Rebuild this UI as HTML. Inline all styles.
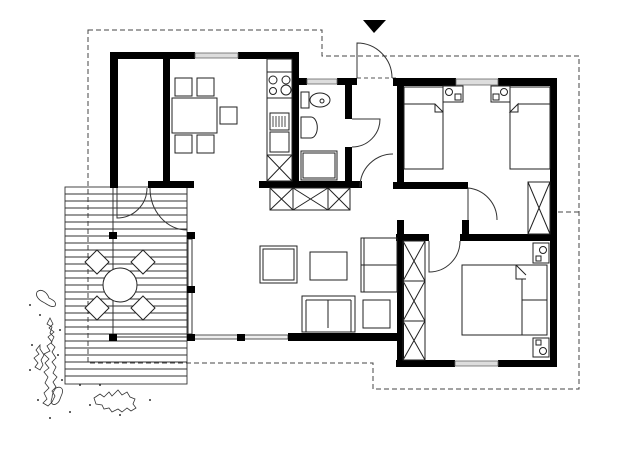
<!DOCTYPE html>
<html><head><meta charset="utf-8"><style>html,body{margin:0;padding:0;background:#fff}svg{display:block}</style></head>
<body>
<svg width="640" height="450" viewBox="0 0 640 450" xmlns="http://www.w3.org/2000/svg" fill="none" stroke="#222" stroke-width="1">
<!-- dashed outline -->
<path d="M88 30 H322 V56 H579 V389 H373 V363 H88 Z" stroke="#444" stroke-dasharray="5,3"/>
<path d="M550 212 H579" stroke="#444" stroke-dasharray="5,3"/>
<path d="M357 78 H397" stroke="#555" stroke-dasharray="4,3"/>
<!-- deck -->
<g stroke="#333" stroke-width="0.9">
<rect x="65" y="187" width="122" height="197"/>
<path d="M65 194H187M65 201H187M65 208H187M65 215H187M65 222H187M65 229H187M65 236H187M65 243H187M65 250H187M65 257H187M65 264H187M65 271H187M65 278H187M65 285H187M65 292H187M65 299H187M65 306H187M65 313H187M65 320H187M65 327H187M65 334H187M65 341H187M65 348H187M65 355H187M65 362H187M65 369H187M65 376H187"/>
</g>
<path d="M113 188 V337 H190" stroke="#333"/>
<rect x="188" y="239" width="4" height="95" fill="#fff" stroke="#333"/>
<rect x="194" y="335" width="94" height="4" fill="#eee" stroke="#555"/>
<!-- patio table -->
<circle cx="120" cy="285" r="17" fill="#fff"/>
<g fill="#fff"><path d="M97 250 l12 12 -12 12 -12 -12z"/><path d="M143 250 l12 12 -12 12 -12 -12z"/><path d="M97 296 l12 12 -12 12 -12 -12z"/><path d="M143 296 l12 12 -12 12 -12 -12z"/></g>
<!-- walls -->
<g fill="#000" stroke="none">
<rect x="110" y="52" width="85" height="7"/><rect x="238" y="52" width="61" height="7"/>
<rect x="110" y="52" width="8" height="136"/>
<rect x="163" y="52" width="7" height="136"/>
<rect x="148" y="181" width="46" height="7"/>
<rect x="292" y="52" width="7" height="136"/>
<rect x="259" y="181" width="103" height="7"/>
<rect x="299" y="78" width="8" height="7"/><rect x="337" y="78" width="20" height="7"/>
<rect x="345" y="78" width="7" height="41"/><rect x="345" y="147" width="7" height="41"/>
<rect x="393" y="78" width="63" height="8"/><rect x="498" y="78" width="59" height="8"/>
<rect x="397" y="78" width="7" height="110"/>
<rect x="393" y="182" width="75" height="7"/>
<rect x="550" y="78" width="7" height="289"/>
<rect x="397" y="220" width="7" height="147"/>
<rect x="462" y="220" width="7" height="21"/>
<rect x="396" y="234" width="33" height="7"/><rect x="460" y="234" width="97" height="7"/>
<rect x="396" y="360" width="59" height="7"/><rect x="498" y="360" width="59" height="7"/>
<rect x="288" y="333" width="115" height="8"/>
<rect x="109" y="232" width="8" height="7"/><rect x="187" y="232" width="8" height="7"/>
<rect x="187" y="286" width="8" height="7"/><rect x="187" y="334" width="8" height="7"/>
<rect x="109" y="334" width="8" height="7"/><rect x="237" y="334" width="8" height="7"/>
</g>
<!-- windows -->
<g fill="#ddd" stroke="#666" stroke-width="0.8">
<rect x="195" y="53" width="43" height="5"/><rect x="307" y="79" width="30" height="5"/>
<rect x="456" y="79" width="42" height="6"/><rect x="455" y="361" width="43" height="5"/>
</g>
<!-- doors -->
<g stroke="#333">
<path d="M357 78 V43 A35 35 0 0 1 392 78"/>
<path d="M352 119 H380 A28 28 0 0 1 352 147"/>
<path d="M393 154 A33 33 0 0 0 360 187"/>
<path d="M468 188 V220 M468 188 A32 32 0 0 1 497 220"/>
<path d="M429 241 V272 A31 31 0 0 0 460 241"/>
<path d="M117 188 V218 A30 30 0 0 0 147 188"/>
<path d="M187 188 V230 M150 188 A37 42 0 0 0 187 230"/>
</g>
<!-- kitchen -->
<rect x="267" y="59" width="25" height="122"/>
<path d="M267 72H292M267 98H292M267 155H292M267 155L292 181M292 155L267 181"/>
<circle cx="273" cy="80" r="4"/><circle cx="286" cy="80" r="4"/><circle cx="273" cy="91" r="3.5"/><circle cx="286" cy="90" r="5"/>
<rect x="270" y="113" width="19" height="17"/><rect x="270" y="132" width="19" height="20"/>
<path d="M273 116v11M276 116v11M279 116v11M282 116v11M285 116v11" stroke-width="0.8"/>
<rect x="270" y="188" width="80" height="22"/>
<path d="M293 188V210M328 188V210M270 188L293 210M293 188L270 210M293 188L328 210M328 188L293 210M328 188L350 210M350 188L328 210"/>
<!-- bathroom -->
<rect x="301" y="92" width="8" height="16"/><ellipse cx="320" cy="100" rx="10" ry="7"/><circle cx="322" cy="101" r="2"/>
<path d="M301 117 H311 A6 10 0 0 1 311 138 H301 Z"/>
<rect x="301" y="151" width="36" height="29"/><rect x="303" y="153" width="32" height="25"/>
<!-- dining -->
<rect x="172" y="98" width="45" height="35"/>
<rect x="175" y="78" width="17" height="18"/><rect x="197" y="78" width="17" height="18"/>
<rect x="175" y="135" width="17" height="18"/><rect x="197" y="135" width="17" height="18"/>
<rect x="220" y="107" width="17" height="17"/>
<!-- living -->
<rect x="260" y="246" width="37" height="37"/><rect x="263" y="249" width="31" height="31"/>
<rect x="310" y="252" width="37" height="28"/>
<rect x="361" y="238" width="36" height="54"/><path d="M364 238V292M361 265H397"/>
<rect x="302" y="296" width="53" height="36"/><path d="M306 300V332M351 300V332M306 300H351M328 300V328"/>
<rect x="363" y="300" width="27" height="28"/>
<!-- bedroom 1 -->
<rect x="404" y="87" width="39" height="82"/><path d="M404 104H435L443 112"/><path d="M435 104V112H443"/>
<rect x="510" y="87" width="40" height="82"/><path d="M518 104H550M518 104L510 112H518Z"/>
<rect x="443" y="86" width="20" height="16"/><circle cx="449" cy="92" r="3.5"/><rect x="455" y="94" width="6" height="6"/>
<rect x="491" y="86" width="19" height="16"/><circle cx="504" cy="92" r="3.5"/><rect x="493" y="94" width="6" height="6"/>
<rect x="528" y="182" width="22" height="52"/><path d="M528 182L550 234M550 182L528 234"/>
<!-- bedroom 2 -->
<rect x="403" y="241" width="22" height="119"/>
<path d="M403 281H425M403 321H425M403 241L425 281M425 241L403 281M403 281L425 321M425 281L403 321M403 321L425 360M425 321L403 360"/>
<rect x="462" y="265" width="85" height="70"/><path d="M516 265V279H526M516 265L526 275M522 279V300H547M522 300V335"/>
<rect x="533" y="243" width="16" height="20"/><circle cx="543" cy="250" r="3.5"/><rect x="536" y="256" width="5" height="5"/>
<rect x="533" y="338" width="16" height="19"/><circle cx="543" cy="351" r="3.5"/><rect x="536" y="340" width="5" height="5"/>
<!-- entrance arrow -->
<path d="M363 20 H386 L374 33 Z" fill="#000" stroke="none"/>
<!-- shrubs -->
<g stroke="#333" stroke-width="0.8">
<path d="M37 292 c4 -4 10 0 12 6 c4 2 8 4 6 8 c-4 2 -8 -2 -12 -4 c-4 -2 -8 -6 -6 -10z"/>
<path d="M50 318 l3 6 -4 4 5 4 -6 5 4 5 -5 4 3 5 -6 3 5 5 -4 4 4 5 -5 4 4 5 -3 6 4 5 -5 5 3 6 -4 4 5 3 4 -4 3 -6 -3 -5 4 -4 -3 -5 4 -5 -4 -4 3 -6 -4 -5 4 -4 -4 -6 3 -5 -4 -4 3 -6 -4 -4 2 -6 -5 -3z"/>
<path d="M40 345 l-4 5 3 4 -5 4 4 5 -3 4 5 3 3 -5 -2 -5 3 -5 -4 -6z"/>
<path d="M56 388 c4 -2 8 0 6 6 c-2 4 -2 8 -6 10 c-4 2 -6 -2 -4 -6 c0 -4 2 -8 4 -10z"/>
<path d="M94 398 l6 -4 4 3 5 -5 3 4 6 -6 4 5 5 -3 3 5 5 2 -2 5 3 4 -5 3 -4 -3 -5 4 -4 -3 -6 3 -3 -4 -5 1 -2 -4 -6 -1z"/>
</g>
<g fill="#333" stroke="none">
<circle cx="30" cy="305" r="1"/><circle cx="40" cy="315" r="1"/><circle cx="60" cy="330" r="1"/><circle cx="32" cy="345" r="1"/><circle cx="58" cy="355" r="1"/><circle cx="30" cy="370" r="1"/><circle cx="62" cy="380" r="1"/><circle cx="38" cy="400" r="1"/><circle cx="90" cy="405" r="1"/><circle cx="70" cy="412" r="1"/><circle cx="150" cy="400" r="1"/><circle cx="120" cy="415" r="1"/><circle cx="80" cy="385" r="1"/><circle cx="100" cy="385" r="1"/><circle cx="50" cy="418" r="1"/>
</g>
</svg>
</body></html>
